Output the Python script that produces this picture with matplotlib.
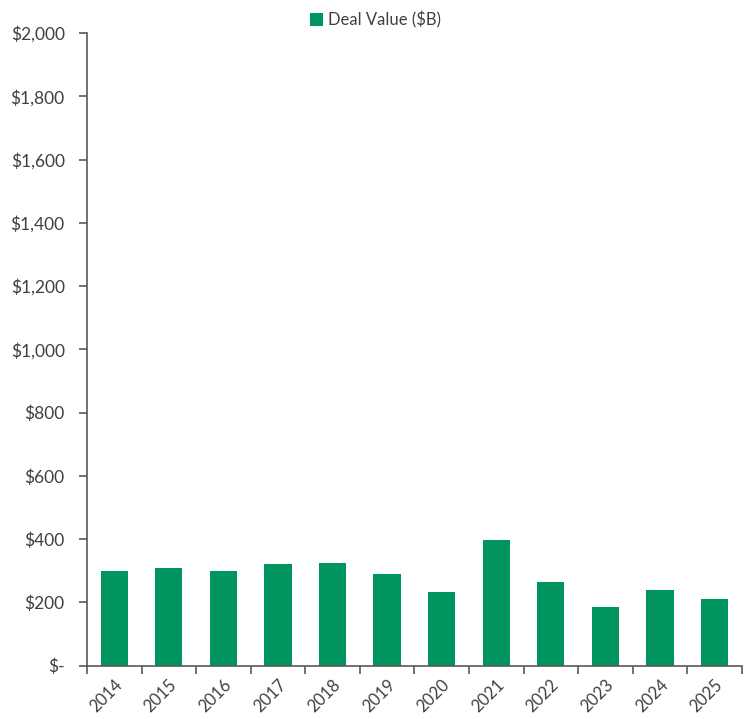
import matplotlib.pyplot as plt
from matplotlib.ticker import FuncFormatter, MultipleLocator
import numpy as np

# Deal value by year
years = ['2014', '2015', '2016', '2017', '2018', '2019',
         '2020', '2021', '2022', '2023', '2024', '2025']
deal_value = [300, 310, 298, 323, 325, 291, 233, 397, 265, 186, 238, 212]

bar_color = '#00945E'
axis_color = '#595959'
text_color = '#404040'

plt.rcParams['font.family'] = ['Lato', 'DejaVu Sans']

fig = plt.figure(figsize=(7.51, 7.19), dpi=100)
ax = fig.add_axes([0.1158, 0.0741, 0.872, 0.88])

x = np.arange(len(years))
ax.bar(x, deal_value, width=0.5, color=bar_color, label='Deal Value ($B)', zorder=2)

ax.set_xlim(-0.5, len(years) - 0.5)
ax.set_ylim(0, 2000)
ax.yaxis.set_major_locator(MultipleLocator(200))


def money(v, pos):
    if v == 0:
        return '$-'
    return f'${v:,.0f}'


ax.yaxis.set_major_formatter(FuncFormatter(money))

# Excel style: ticks between categories, labels at the category centres
ax.set_xticks(np.arange(len(years) + 1) - 0.5)
ax.set_xticklabels([])
ax.set_xticks(x + 0.1, minor=True)
ax.set_xticklabels(years, minor=True, rotation=45, ha='right', va='center',
                   rotation_mode='anchor', fontsize=12, color=text_color)
ax.tick_params(axis='x', which='minor', length=0, pad=12)
ax.tick_params(axis='x', which='major', length=6, width=1.2, color=axis_color)
ax.tick_params(axis='y', length=6, width=1.2, color=axis_color, pad=10,
               labelsize=12.5, labelcolor=text_color)

for side in ['top', 'right']:
    ax.spines[side].set_visible(False)
for side in ['left', 'bottom']:
    ax.spines[side].set_color(axis_color)
    ax.spines[side].set_linewidth(1.2)

fig.legend(loc='upper center', bbox_to_anchor=(0.5, 1.005), frameon=False,
           fontsize=12, labelcolor=text_color, handlelength=0.8,
           handleheight=0.8, handletextpad=0.3)

fig.savefig('out.png', dpi=100)
